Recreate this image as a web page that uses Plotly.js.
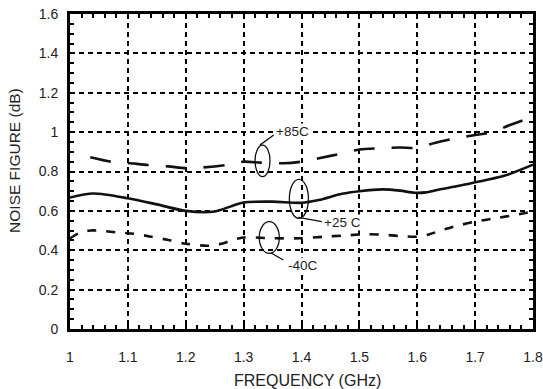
<!DOCTYPE html>
<html>
<head>
<meta charset="utf-8">
<script src="https://cdn.plot.ly/plotly-3.0.1.min.js"></script>
<style>html,body{margin:0;padding:0;background:#fff;}#chart{width:543px;height:389px;}</style>
</head>
<body>
<div id="chart"></div>
<script>
// Frequency (GHz) and noise figure (dB)
const freq85 = [1.035, 1.07, 1.10, 1.135, 1.17, 1.20, 1.23, 1.27, 1.30, 1.33, 1.37, 1.40, 1.43, 1.47, 1.50, 1.54, 1.57, 1.60, 1.63, 1.66, 1.70, 1.73, 1.76, 1.80];
const nf85   = [0.872, 0.85, 0.843, 0.833, 0.826, 0.817, 0.821, 0.833, 0.85, 0.845, 0.842, 0.85, 0.867, 0.892, 0.912, 0.918, 0.922, 0.92, 0.945, 0.965, 0.985, 1.0, 1.036, 1.077];

const freq25 = [1.00, 1.04, 1.10, 1.15, 1.20, 1.25, 1.28, 1.30, 1.35, 1.40, 1.43, 1.47, 1.50, 1.54, 1.57, 1.595, 1.615, 1.64, 1.67, 1.70, 1.75, 1.80];
const nf25   = [0.668, 0.688, 0.664, 0.633, 0.60, 0.597, 0.625, 0.643, 0.647, 0.641, 0.655, 0.687, 0.70, 0.709, 0.703, 0.692, 0.694, 0.71, 0.726, 0.745, 0.778, 0.835];

const freqM40 = [1.00, 1.015, 1.035, 1.05, 1.08, 1.11, 1.14, 1.17, 1.20, 1.24, 1.265, 1.28, 1.30, 1.35, 1.40, 1.44, 1.47, 1.51, 1.54, 1.57, 1.60, 1.62, 1.64, 1.67, 1.70, 1.74, 1.77, 1.80];
const nfM40   = [0.46, 0.486, 0.50, 0.50, 0.491, 0.484, 0.469, 0.452, 0.433, 0.423, 0.435, 0.452, 0.465, 0.461, 0.461, 0.469, 0.474, 0.481, 0.479, 0.472, 0.469, 0.48, 0.50, 0.525, 0.545, 0.565, 0.58, 0.597];

const xTickVals = [1, 1.1, 1.2, 1.3, 1.4, 1.5, 1.6, 1.7, 1.8];
const xTickText = ['1', '1.1', '1.2', '1.3', '1.4', '1.5', '1.6', '1.7', '1.8'];
const yTickVals = [0, 0.2, 0.4, 0.6, 0.8, 1, 1.2, 1.4, 1.6];
const yTickText = ['0', '0.2', '0.4', '0.6', '0.8', '1', '1.2', '1.4', '1.6'];

const curveLabels = ['+85C', '+25 C', '-40C'];

const FONT = 'Liberation Sans, Arial, Helvetica, sans-serif';

const traces = [
  {x: freq85, y: nf85, mode: 'lines', name: curveLabels[0],
   line: {color: '#111', width: 2.6, dash: '21px,17px', shape: 'spline', smoothing: 0.8}},
  {x: freq25, y: nf25, mode: 'lines', name: curveLabels[1],
   line: {color: '#111', width: 2.6, shape: 'spline', smoothing: 0.8}},
  {x: freqM40, y: nfM40, mode: 'lines', name: curveLabels[2],
   line: {color: '#111', width: 2.6, dash: '9px,10px', shape: 'spline', smoothing: 0.8}}
];

const axisCommon = {
  showgrid: true, gridcolor: '#000', gridwidth: 2, griddash: '5px,4px',
  showline: true, linecolor: '#000', linewidth: 3, mirror: 'allticks',
  ticks: 'inside', ticklen: 4, tickwidth: 2, tickcolor: '#000',
  zeroline: false, fixedrange: true,
  tickfont: {family: FONT, size: 14, color: '#222'}
};

const layout = {
  width: 543, height: 389,
  margin: {l: 70, r: 10, t: 14, b: 60, pad: 0},
  paper_bgcolor: '#fff', plot_bgcolor: '#fff',
  showlegend: false,
  font: {family: FONT, color: '#222'},
  xaxis: Object.assign({}, axisCommon, {
    range: [1, 1.8], tickmode: 'array', tickvals: xTickVals, ticktext: xTickText,
    ticklabelstandoff: 13,
    minor: {dtick: 0.02, tick0: 1, ticks: 'inside', ticklen: 4, tickwidth: 2, tickcolor: '#000', showgrid: false}
  }),
  yaxis: Object.assign({}, axisCommon, {
    range: [0, 1.6], tickmode: 'array', tickvals: yTickVals, ticktext: yTickText,
    ticklabelstandoff: 6,
    minor: {dtick: 0.05, tick0: 0, ticks: 'inside', ticklen: 4, tickwidth: 2, tickcolor: '#000', showgrid: false}
  }),
  shapes: [
    {type: 'circle', xref: 'x', yref: 'y', x0: 1.3197, x1: 1.3456, y0: 0.774, y1: 0.934, line: {color: '#111', width: 1.3}},
    {type: 'line', xref: 'x', yref: 'y', x0: 1.328, y0: 0.934, x1: 1.352, y1: 0.985, line: {color: '#111', width: 1.3}},
    {type: 'circle', xref: 'x', yref: 'y', x0: 1.379, x1: 1.412, y0: 0.562, y1: 0.760, line: {color: '#111', width: 1.3}},
    {type: 'line', xref: 'x', yref: 'y', x0: 1.3945, y0: 0.567, x1: 1.435, y1: 0.545, line: {color: '#111', width: 1.3}},
    {type: 'circle', xref: 'x', yref: 'y', x0: 1.327, x1: 1.3617, y0: 0.384, y1: 0.545, line: {color: '#111', width: 1.3}},
    {type: 'line', xref: 'x', yref: 'y', x0: 1.3468, y0: 0.3875, x1: 1.3686, y1: 0.3504, line: {color: '#111', width: 1.3}}
  ],
  annotations: [
    {text: curveLabels[0], xref: 'x', yref: 'y', x: 1.354, y: 1.003, xanchor: 'left', yanchor: 'middle', showarrow: false,
     bgcolor: '#fff', borderpad: 0, font: {family: FONT, size: 13.5, color: '#222'}},
    {text: curveLabels[1], xref: 'x', yref: 'y', x: 1.4366, y: 0.543, xanchor: 'left', yanchor: 'middle', showarrow: false,
     bgcolor: '#fff', borderpad: 0, font: {family: FONT, size: 13.5, color: '#222'}},
    {text: curveLabels[2], xref: 'x', yref: 'y', x: 1.3744, y: 0.3225, xanchor: 'left', yanchor: 'middle', showarrow: false,
     bgcolor: '#fff', borderpad: 0, font: {family: FONT, size: 13.5, color: '#222'}},
    {text: 'FREQUENCY (GHz)', xref: 'paper', yref: 'paper', x: 0.512, y: -0.162, xanchor: 'center', yanchor: 'middle', showarrow: false,
     font: {family: FONT, size: 16, color: '#222'}},
    {text: 'NOISE FIGURE (dB)', xref: 'paper', yref: 'paper', x: -0.12, y: 0.535, xanchor: 'center', yanchor: 'middle', showarrow: false,
     textangle: -90, font: {family: FONT, size: 15.5, color: '#222'}}
  ]
};

Plotly.newPlot('chart', traces, layout, {displayModeBar: false, staticPlot: true});
</script>
</body>
</html>
